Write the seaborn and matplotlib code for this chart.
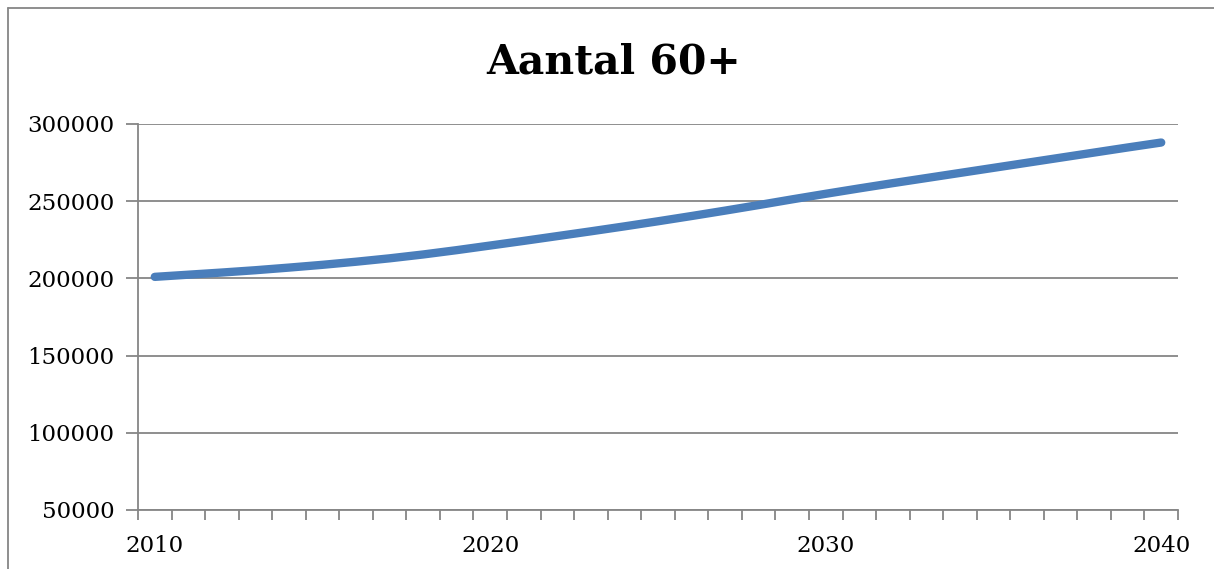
import matplotlib
matplotlib.use("Agg")
import matplotlib.pyplot as plt
import seaborn as sns
import pandas as pd
from matplotlib.lines import Line2D
from matplotlib.ticker import FixedLocator, FuncFormatter

years = list(range(2010, 2041))
aantal_60plus = [201000, 202400, 203800, 205300, 207000, 208800, 210800, 213000,
                 215500, 218300, 221300, 224300, 227400, 230500, 233700, 237000,
                 240400, 243900, 247500, 251200, 254800, 258300, 261700, 265000,
                 268300, 271600, 274900, 278200, 281500, 284800, 288000]
title = "Aantal 60+"
x_labels = [2010, 2020, 2030, 2040]
y_ticks = [50000, 100000, 150000, 200000, 250000, 300000]

df = pd.DataFrame({"jaar": years, "aantal": aantal_60plus})

sns.set_theme(style="white")
plt.rcParams["font.family"] = ["DejaVu Serif", "DejaVu Sans"]

W, H = 1214, 569
fig = plt.figure(figsize=(W / 100, H / 100), dpi=100)
ax = fig.add_axes([138 / W, 59 / H, (1178 - 138) / W, (510 - 124) / H])

grid_c = "#868686"
sns.lineplot(data=df, x="jaar", y="aantal", ax=ax, color="#4A7EBB", linewidth=6,
             solid_capstyle="round", zorder=3)

ax.set_xlim(years[0] - 0.5, years[-1] + 0.5)
ax.set_ylim(y_ticks[0], y_ticks[-1])
ax.set_yticks(y_ticks)
ax.set_yticklabels([str(v) for v in y_ticks])
ax.yaxis.grid(True, color=grid_c, linewidth=1.3)
ax.xaxis.grid(False)

# x: labels at decade categories, tick marks on category boundaries
ax.xaxis.set_major_locator(FixedLocator(x_labels))
ax.xaxis.set_major_formatter(FuncFormatter(lambda v, p: str(int(round(v)))))
ax.xaxis.set_minor_locator(FixedLocator([y - 0.5 for y in years] + [years[-1] + 0.5]))
ax.tick_params(axis="x", which="major", length=0, pad=18, labelsize=16.5, labelcolor="black")
ax.tick_params(axis="x", which="minor", length=7, width=1.3, color=grid_c, direction="out", bottom=True)
ax.tick_params(axis="y", which="major", length=9, width=1.3, color=grid_c, direction="out",
               pad=8, labelsize=16.5, labelcolor="black", left=True)

ax.set_xlabel("")
ax.set_ylabel("")
for s in ["top", "right"]:
    ax.spines[s].set_visible(False)
for s in ["left", "bottom"]:
    ax.spines[s].set_color(grid_c)
    ax.spines[s].set_linewidth(1.3)

fig.text(614 / W, 1 - 62 / H, title, ha="center", va="center", fontsize=29.5,
         fontweight="bold", color="black", family=["DejaVu Serif"])

# chart area border (top and left visible)
fig.add_artist(Line2D([8 / W, 8 / W], [0, 1 - 8 / H], color=grid_c, linewidth=1.3,
                      transform=fig.transFigure))
fig.add_artist(Line2D([8 / W, 1], [1 - 8 / H, 1 - 8 / H], color=grid_c, linewidth=1.3,
                      transform=fig.transFigure))

fig.savefig("out.png", dpi=100, facecolor="white")
